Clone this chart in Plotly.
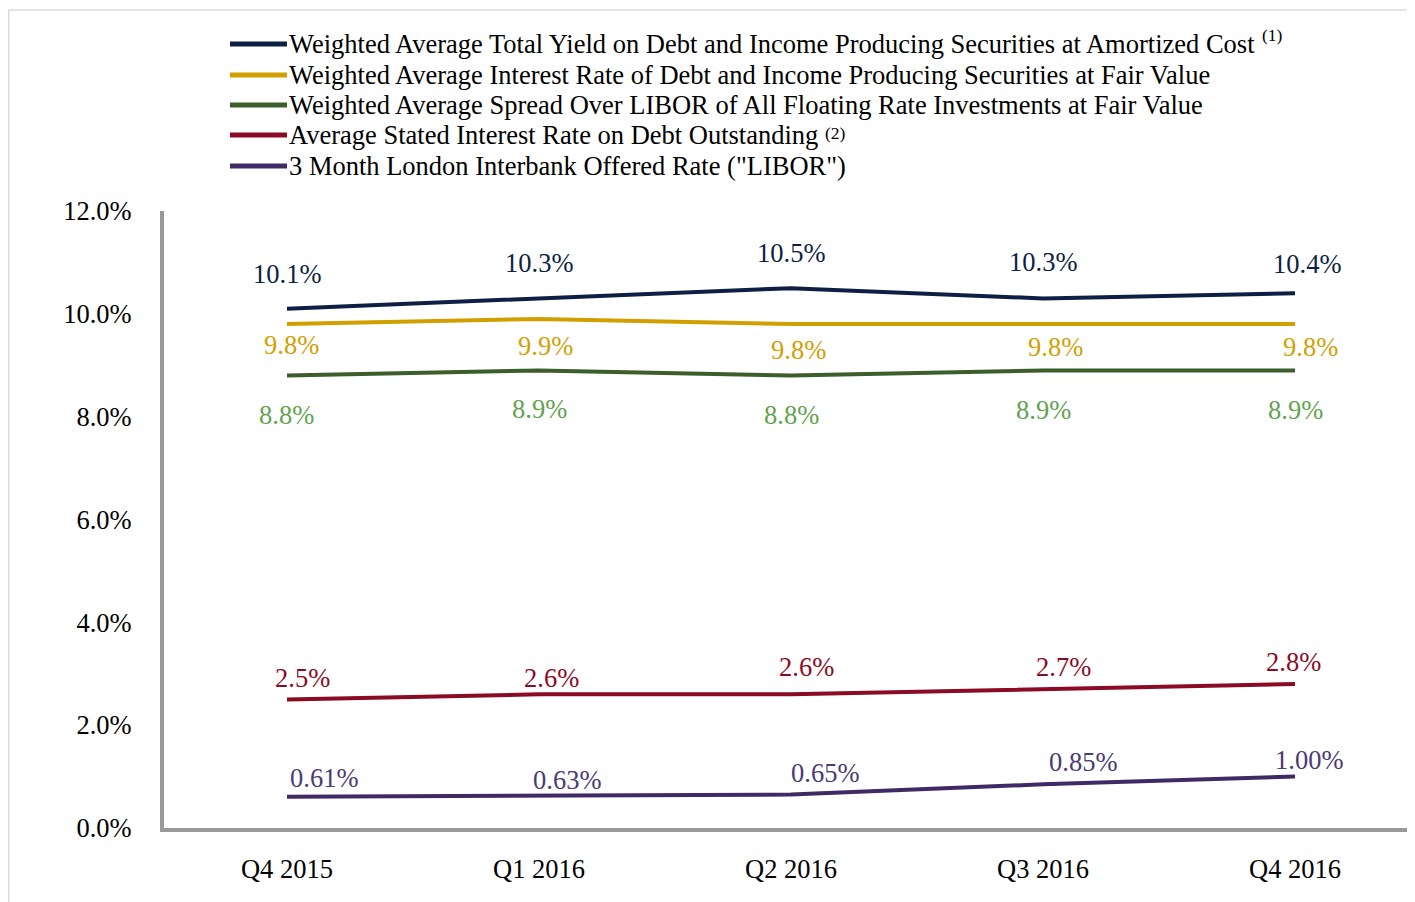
import plotly.graph_objects as go

# ---------------- data ----------------
quarters = ["Q4 2015", "Q1 2016", "Q2 2016", "Q3 2016", "Q4 2016"]

total_yield = [10.1, 10.3, 10.5, 10.3, 10.4]
interest_rate_fv = [9.8, 9.9, 9.8, 9.8, 9.8]
spread_libor = [8.8, 8.9, 8.8, 8.9, 8.9]
stated_rate_debt = [2.5, 2.6, 2.6, 2.7, 2.8]
libor_3m = [0.61, 0.63, 0.65, 0.85, 1.00]

series_names = [
    "Weighted Average Total Yield on Debt and Income Producing Securities at Amortized Cost",
    "Weighted Average Interest Rate of Debt and Income Producing Securities at Fair Value",
    "Weighted Average Spread Over LIBOR of All Floating Rate Investments at Fair Value",
    "Average Stated Interest Rate on Debt Outstanding",
    "3 Month London Interbank Offered Rate (\"LIBOR\")",
]
footnote_marks = ["(1)", "", "", "(2)", ""]

ytick_vals = [0, 2, 4, 6, 8, 10, 12]

# ---------------- styles ----------------
FONT = "Liberation Serif, Times New Roman, serif"
FS = 26.5
PAGE_OFF = 8          # browser body margin
W, H = 1415 - PAGE_OFF, 902 - PAGE_OFF
ML, MR, MT, MB = 156, 0, 203, 74

series = [
    dict(vals=total_yield, line="#0d1f45", text="#0d1f45", dec=1,
         xs=[0, 0, 0, 0, 12], ys=[35, 35, 35, 36, 29]),
    dict(vals=interest_rate_fv, line="#d1a000", text="#d1a000", dec=1,
         xs=[5, 6, 7, 12, 15], ys=[-21, -27, -26, -23, -23]),
    dict(vals=spread_libor, line="#3b5e2b", text="#62a24f", dec=1,
         xs=[0, 0, 0, 0, 0], ys=[-39, -39, -39, -40, -40]),
    dict(vals=stated_rate_debt, line="#8b0a24", text="#8b0a24", dec=1,
         xs=[16, 12, 15, 20, -2], ys=[21, 16, 27, 22, 22]),
    dict(vals=libor_3m, line="#402a66", text="#4a3a75", dec=2,
         xs=[37, 28, 34, 40, 14], ys=[19, 16, 22, 22, 17]),
]

fig = go.Figure()
annotations = []
shapes = []

for name, s in zip(series_names, series):
    fig.add_trace(go.Scatter(
        x=quarters, y=s["vals"], mode="lines", name=name,
        line=dict(color=s["line"], width=4), showlegend=False,
        hoverinfo="x+y",
    ))
    for q, v, dx, dy in zip(quarters, s["vals"], s["xs"], s["ys"]):
        annotations.append(dict(
            x=q, y=v, xref="x", yref="y", showarrow=False,
            text=f"{v:.{s['dec']}f}%", xshift=dx, yshift=dy,
            font=dict(family=FONT, size=FS, color=s["text"]),
            xanchor="center", yanchor="middle",
        ))

# ---- manual legend (paper coordinates, given in page pixels) ----
pw = W - ML - MR
ph = H - MT - MB


def px_x(px):
    return (px - PAGE_OFF - ML) / pw


def px_y(py):
    return (H - MB - (py - PAGE_OFF)) / ph


legend_rows = [44, 75, 105, 135, 166]
mark_pos = [(1260, 35), None, None, (823, 133), None]
for name, s, ry, mark, mp in zip(series_names, series, legend_rows, footnote_marks, mark_pos):
    shapes.append(dict(type="line", xref="paper", yref="paper",
                       x0=px_x(230), x1=px_x(287), y0=px_y(ry), y1=px_y(ry),
                       line=dict(color=s["line"], width=5)))
    annotations.append(dict(x=px_x(287), y=px_y(ry), xref="paper", yref="paper",
                            showarrow=False, text=name, xanchor="left", yanchor="middle",
                            font=dict(family=FONT, size=FS, color="#000000")))
    if mark:
        annotations.append(dict(x=px_x(mp[0]), y=px_y(mp[1]), xref="paper", yref="paper",
                                showarrow=False, text=mark, xanchor="left", yanchor="middle",
                                font=dict(family=FONT, size=17.5, color="#000000")))

# light outer frame
shapes.append(dict(type="rect", xref="paper", yref="paper",
                   x0=px_x(8.8), x1=px_x(1440), y0=px_y(930), y1=px_y(10),
                   line=dict(color="#dedade", width=1.5), layer="below"))

# category axis range so that categories fall at the reference spacing
x_lo = -0.488
x_hi = 4.476

fig.update_layout(
    width=W, height=H,
    margin=dict(l=ML, r=MR, t=MT, b=MB),
    paper_bgcolor="white", plot_bgcolor="white",
    font=dict(family=FONT, size=FS, color="#000000"),
    showlegend=False,
    annotations=annotations,
    shapes=shapes,
    xaxis=dict(
        type="category", range=[x_lo, x_hi],
        showgrid=False, zeroline=False,
        showline=True, linecolor="#999999", linewidth=4,
        ticks="", ticklabelstandoff=14,
        tickfont=dict(family=FONT, size=FS, color="#000000"),
    ),
    yaxis=dict(
        range=[0, 12], tickvals=ytick_vals,
        ticktext=[f"{v:.1f}%" for v in ytick_vals],
        showgrid=False, zeroline=False,
        showline=True, linecolor="#999999", linewidth=4,
        ticks="", ticklabelstandoff=23,
        tickfont=dict(family=FONT, size=FS, color="#000000"),
    ),
)

fig.write_html("out.html")
